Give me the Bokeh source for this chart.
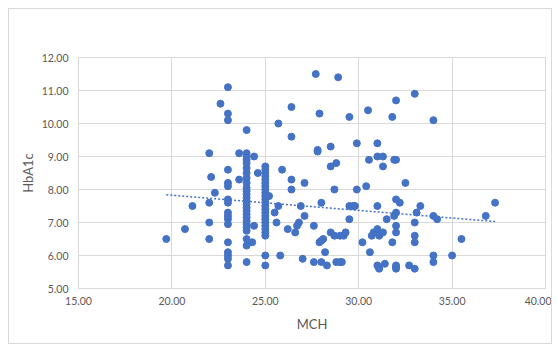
from bokeh.plotting import figure
from bokeh.models import Range1d, FixedTicker, NumeralTickFormatter, ColumnDataSource
from bokeh.embed import file_html
from bokeh.resources import INLINE

# ---- data ----
col23_y = [11.1, 10.3, 10.1, 8.6, 8.2, 8.1, 7.7, 7.6, 7.3, 7.2, 7.1, 6.95, 6.4, 6.1, 6.0, 5.9, 5.7]
col24_y = [9.8, 9.1, 9.0, 8.9, 8.8, 8.65, 8.5, 8.35, 8.2, 8.05, 7.95, 7.85, 7.75, 7.65, 7.55,
           7.45, 7.35, 7.25, 7.15, 7.05, 6.95, 6.85, 6.75, 6.5, 6.3, 5.8]
col25_y = [8.7, 8.6, 8.5, 8.4, 8.3, 8.2, 8.1, 8.0, 7.9, 7.8, 7.7, 7.6, 7.5, 7.4, 7.3, 7.2,
           7.1, 7.0, 6.9, 6.8, 6.7, 6.6, 6.0, 5.7]

other_mch = [19.7, 20.7, 21.1, 22.0, 22.1, 22.3, 22.0, 22.0, 22.0, 22.6, 23.6, 23.6, 24.4, 24.4, 24.3, 24.6,
             25.2, 25.5, 25.6, 25.7, 25.7, 25.8, 25.9, 26.2, 26.4, 26.4, 26.4, 26.4, 26.6, 26.7, 26.8, 26.9,
             27.0, 27.1, 27.1, 27.6, 27.6, 27.7, 27.8, 27.8, 27.9, 28.0, 27.9, 28.0, 28.1, 28.2, 28.0, 28.3,
             28.5, 28.5, 28.8, 28.5, 28.7, 28.7, 28.8, 29.0, 29.1, 28.9, 29.0, 29.2, 29.3, 29.5, 29.5, 29.5,
             29.7, 29.8, 29.9, 29.9, 30.2, 30.4, 30.5, 30.55, 30.6,
             31.0, 31.0, 31.3, 31.3, 31.9, 32.0, 31.8, 32.0, 33.0, 34.0, 32.5, 32.0, 32.2, 31.0, 33.3, 32.0,
             31.9, 33.1, 34.0, 34.2, 31.5, 36.8, 37.3, 32.0, 33.0, 32.0, 33.0, 33.0,
             31.0, 30.8, 30.7, 31.1, 31.3, 31.8, 35.5, 34.0, 34.0, 35.0, 31.4, 31.0, 31.05, 31.1,
             32.0, 32.0, 32.0, 32.7, 33.0]
other_hba1c = [6.5, 6.8, 7.5, 9.1, 8.38, 7.9, 7.6, 7.0, 6.5, 10.6, 9.1, 8.3, 9.0, 6.9, 6.4, 8.5,
               7.8, 7.3, 7.0, 7.5, 10.0, 6.0, 8.6, 6.8, 10.5, 9.6, 8.3, 8.0, 6.7, 6.9, 7.0, 7.5,
               5.9, 8.2, 7.2, 6.9, 5.8, 11.5, 9.15, 9.2, 10.3, 7.6, 6.4, 6.45, 6.5, 6.1, 5.8, 5.7,
               9.3, 8.7, 8.8, 6.7, 6.6, 8.0, 5.8, 5.8, 5.8, 11.4, 6.6, 6.6, 6.7, 10.2, 7.1, 7.5,
               7.5, 7.5, 9.4, 8.0, 6.4, 8.1, 10.4, 8.9, 6.1,
               9.4, 9.0, 9.0, 8.7, 8.9, 8.9, 10.2, 10.7, 10.9, 10.1, 8.2, 7.7, 7.6, 7.5, 7.5, 7.3,
               7.2, 7.3, 7.2, 7.1, 7.1, 7.2, 7.6, 6.9, 7.0, 6.7, 6.6, 6.4,
               6.8, 6.7, 6.6, 6.6, 6.7, 6.4, 6.5, 6.0, 5.8, 6.0, 5.75, 5.7, 5.65, 5.6,
               5.7, 5.65, 5.6, 5.7, 5.6]

trend_mch = [19.7, 37.3]
trend_hba1c = [7.84, 7.03]

x_ticks = [15, 20, 25, 30, 35, 40]
y_ticks = [5, 6, 7, 8, 9, 10, 11, 12]

mch = other_mch + [23.0] * len(col23_y) + [24.0] * len(col24_y) + [25.0] * len(col25_y)
hba1c = other_hba1c + col23_y + col24_y + col25_y

BLUE = "#4472C4"
GRID = "#d9d9d9"
TXT = "#595959"
FONT = "Lato"

p = figure(width=544, height=336, output_backend="svg", toolbar_location=None,
           x_range=Range1d(15, 40), y_range=Range1d(5, 12),
           min_border_left=69, min_border_right=8, min_border_top=48, min_border_bottom=57)
p.styles = {"border": "1px solid #d9d9d9", "margin-left": "8px", "margin-top": "8px"}
p.outline_line_color = GRID
p.background_fill_color = "white"
p.border_fill_color = "white"

src = ColumnDataSource(dict(x=mch, y=hba1c))
p.scatter("x", "y", source=src, size=7, color=BLUE, line_color=BLUE)
p.line(trend_mch, trend_hba1c, line_color=BLUE, line_width=1.5, line_dash="2 2")

p.xaxis.ticker = FixedTicker(ticks=x_ticks)
p.yaxis.ticker = FixedTicker(ticks=y_ticks)
for ax in (p.xaxis, p.yaxis):
    ax.formatter = NumeralTickFormatter(format="0.00")
    ax.axis_line_color = None
    ax.major_tick_line_color = None
    ax.minor_tick_line_color = None
    ax.major_tick_out = 0
    ax.major_label_text_font = FONT
    ax.major_label_text_font_size = "10.5px"
    ax.major_label_text_color = TXT
    ax.axis_label_text_font = FONT
    ax.axis_label_text_font_size = "13px"
    ax.axis_label_text_font_style = "normal"
    ax.axis_label_text_color = TXT
p.xaxis.axis_label = "MCH"
p.yaxis.axis_label = "HbA1c"
p.xaxis.major_label_standoff = 8
p.yaxis.major_label_standoff = 10
p.xaxis.axis_label_standoff = 8
p.yaxis.axis_label_standoff = 3

p.xgrid.grid_line_color = GRID
p.ygrid.grid_line_color = GRID

open("out.html", "w").write(file_html(p, INLINE))
